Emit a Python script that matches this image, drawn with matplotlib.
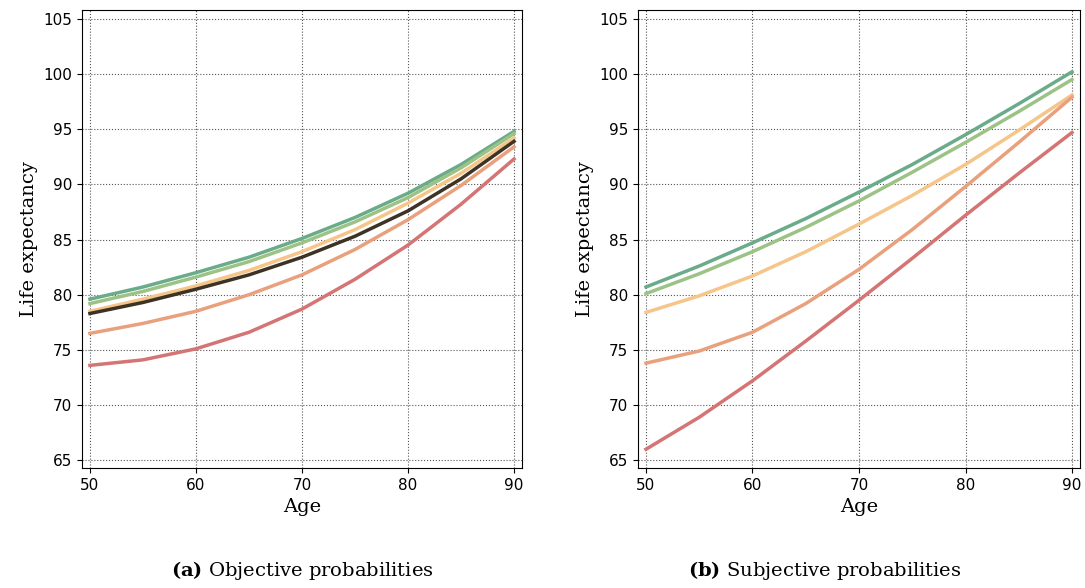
import matplotlib
matplotlib.use("Agg")
import matplotlib.pyplot as plt

ages = [50, 55, 60, 65, 70, 75, 80, 85, 90]

obj_dgreen = [79.6, 80.7, 82.0, 83.4, 85.1, 87.0, 89.2, 91.8, 94.8]
obj_lgreen = [79.2, 80.3, 81.6, 83.0, 84.7, 86.6, 88.8, 91.5, 94.6]
obj_yellow = [78.5, 79.6, 80.8, 82.2, 83.9, 85.9, 88.3, 91.0, 94.2]
obj_salmon = [76.5, 77.4, 78.5, 80.0, 81.8, 84.1, 86.8, 89.9, 93.4]
obj_red = [73.6, 74.1, 75.1, 76.6, 78.7, 81.4, 84.5, 88.2, 92.3]
obj_black = [78.3, 79.3, 80.5, 81.8, 83.4, 85.3, 87.6, 90.5, 93.9]

subj_dgreen = [80.7, 82.6, 84.7, 86.9, 89.3, 91.8, 94.5, 97.3, 100.2]
subj_lgreen = [80.1, 81.9, 83.9, 86.1, 88.5, 91.1, 93.8, 96.6, 99.5]
subj_yellow = [78.4, 79.9, 81.7, 83.9, 86.4, 89.0, 91.8, 94.9, 98.1]
subj_salmon = [73.8, 74.9, 76.6, 79.2, 82.3, 85.9, 89.8, 93.8, 97.9]
subj_red = [66.0, 68.9, 72.2, 75.8, 79.5, 83.3, 87.2, 91.0, 94.7]

colors = ["#6aab8a", "#9cc285", "#f5c58a", "#e9a07c", "#d47474"]

fig = plt.figure(figsize=(10.85, 5.88), dpi=100)
W, H = 1085, 588
ax1 = fig.add_axes([82/W, (H-468)/H, 440/W, 458/H])
ax2 = fig.add_axes([638/W, (H-468)/H, 442/W, 458/H])

serif = "DejaVu Serif"
for ax, series, cap_a, cap_b in [
    (ax1, [obj_dgreen, obj_lgreen, obj_yellow, obj_salmon, obj_red], "(a)", " Objective probabilities"),
    (ax2, [subj_dgreen, subj_lgreen, subj_yellow, subj_salmon, subj_red], "(b)", " Subjective probabilities"),
]:
    for s, c in zip(series, colors):
        ax.plot(ages, s, color=c, lw=2.5)
    if ax is ax1:
        ax.plot(ages, obj_black, color="#3d3325", lw=2.5)
    ax.set_xlim(49.25, 90.75)
    ax.set_ylim(64.3, 105.8)
    ax.set_xticks([50, 60, 70, 80, 90])
    ax.set_yticks(range(65, 106, 5))
    ax.grid(True, color="#555555", linestyle=":", linewidth=0.8)
    ax.tick_params(labelsize=11)
    ax.set_xlabel("Age", fontsize=14, family=serif)
    ax.set_ylabel("Life expectancy", fontsize=14, family=serif)

fig.text(302/W, 1-571/H, r"$\mathbf{(a)}$ Objective probabilities", ha="center", va="center",
         fontsize=14, family=serif, math_fontfamily="dejavuserif")
fig.text(825/W, 1-571/H, r"$\mathbf{(b)}$ Subjective probabilities", ha="center", va="center",
         fontsize=14, family=serif, math_fontfamily="dejavuserif")

fig.savefig("out.png", dpi=100)
